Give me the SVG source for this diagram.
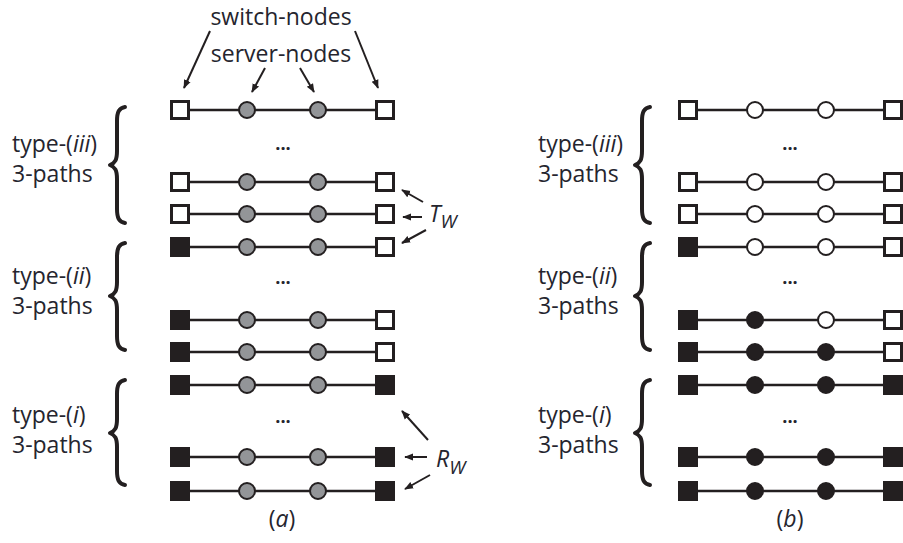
<svg xmlns="http://www.w3.org/2000/svg" width="903" height="543" viewBox="0 0 903 543">
<style>
.t{font-family:"Open Sans","Noto Sans","Liberation Sans",sans-serif;font-size:23px;fill:#25252e}
.i{font-style:italic}
.dots{font-family:"Open Sans","Liberation Sans",sans-serif;font-size:18px;font-weight:700;fill:#25252e;text-anchor:middle}
.so{fill:#fff;stroke:#231f20;stroke-width:3}
.sf{fill:#231f20;stroke:#231f20;stroke-width:3}
.cg{fill:#939598;stroke:#231f20;stroke-width:2}
.co{fill:#fff;stroke:#231f20;stroke-width:2}
.cf{fill:#231f20;stroke:#231f20;stroke-width:2}
.e{stroke:#231f20;stroke-width:2.5}
.ar{stroke:#231f20;stroke-width:2;fill:none;marker-end:url(#ah)}
.br{fill:none;stroke:#231f20;stroke-width:4;stroke-linecap:round;stroke-linejoin:round}
</style>
<defs>
<marker id="ah" viewBox="0 0 10 10" refX="9" refY="5" markerWidth="4.5" markerHeight="4.5" orient="auto" markerUnits="strokeWidth">
<path d="M0,1 L10,5 L0,9 z" fill="#231f20"/>
</marker>
</defs>
<rect width="903" height="543" fill="#fff"/>
<g id="labels">
<text class="t" x="281" y="25" text-anchor="middle">switch-nodes</text>
<text class="t" x="281" y="62" text-anchor="middle">server-nodes</text>
<text class="t" x="12" y="152">type-(<tspan class="i">iii</tspan>)</text>
<text class="t" x="12" y="182">3-paths</text>
<text class="t" x="12" y="284">type-(<tspan class="i">ii</tspan>)</text>
<text class="t" x="12" y="314">3-paths</text>
<text class="t" x="12" y="423">type-(<tspan class="i">i</tspan>)</text>
<text class="t" x="12" y="453">3-paths</text>
<text class="t" x="538" y="152">type-(<tspan class="i">iii</tspan>)</text>
<text class="t" x="538" y="182">3-paths</text>
<text class="t" x="538" y="284">type-(<tspan class="i">ii</tspan>)</text>
<text class="t" x="538" y="314">3-paths</text>
<text class="t" x="538" y="423">type-(<tspan class="i">i</tspan>)</text>
<text class="t" x="538" y="453">3-paths</text>
<text class="t i" x="429" y="222">T<tspan font-size="19" dy="6">W</tspan></text>
<text class="t i" x="436" y="467">R<tspan font-size="19" dy="7">W</tspan></text>
<text class="t" x="282" y="527" text-anchor="middle">(<tspan class="i">a</tspan>)</text>
<text class="t" x="790" y="527" text-anchor="middle">(<tspan class="i">b</tspan>)</text>
<text class="dots" x="283" y="150">...</text>
<text class="dots" x="283" y="284">...</text>
<text class="dots" x="283" y="423">...</text>
<text class="dots" x="790" y="150">...</text>
<text class="dots" x="790" y="284">...</text>
<text class="dots" x="790" y="423">...</text>
</g>
<g id="braces">
<path class="br" d="M125,107 C119,108 117,112 117,121 L117,151 C117,160 115,163 110,165 C115,167 117,170 117,179 L117,209 C117,218 119,222 125,223"/>
<path class="br" d="M125,243 C119,244 117,248 117,257 L117,282 C117,291 115,294 110,296 C115,298 117,301 117,310 L117,336 C117,345 119,349 125,350"/>
<path class="br" d="M125,380 C119,381 117,385 117,394 L117,419 C117,428 115,431 110,433 C115,435 117,438 117,447 L117,471 C117,480 119,484 125,485"/>
<path class="br" d="M650,107 C644,108 642,112 642,121 L642,151 C642,160 640,163 635,165 C640,167 642,170 642,179 L642,209 C642,218 644,222 650,223"/>
<path class="br" d="M650,243 C644,244 642,248 642,257 L642,282 C642,291 640,294 635,296 C640,298 642,301 642,310 L642,336 C642,345 644,349 650,350"/>
<path class="br" d="M650,380 C644,381 642,385 642,394 L642,419 C642,428 640,431 635,433 C640,435 642,438 642,447 L642,471 C642,480 644,484 650,485"/>
</g>
<g id="connectors">
<line class="e" x1="180" y1="110" x2="385" y2="110"/>
<line class="e" x1="180" y1="182" x2="385" y2="182"/>
<line class="e" x1="180" y1="214" x2="385" y2="214"/>
<line class="e" x1="180" y1="247" x2="385" y2="247"/>
<line class="e" x1="180" y1="320" x2="385" y2="320"/>
<line class="e" x1="180" y1="352" x2="385" y2="352"/>
<line class="e" x1="180" y1="385" x2="385" y2="385"/>
<line class="e" x1="180" y1="457" x2="385" y2="457"/>
<line class="e" x1="180" y1="491" x2="385" y2="491"/>
<line class="e" x1="688" y1="110" x2="893" y2="110"/>
<line class="e" x1="688" y1="182" x2="893" y2="182"/>
<line class="e" x1="688" y1="214" x2="893" y2="214"/>
<line class="e" x1="688" y1="247" x2="893" y2="247"/>
<line class="e" x1="688" y1="320" x2="893" y2="320"/>
<line class="e" x1="688" y1="352" x2="893" y2="352"/>
<line class="e" x1="688" y1="385" x2="893" y2="385"/>
<line class="e" x1="688" y1="457" x2="893" y2="457"/>
<line class="e" x1="688" y1="491" x2="893" y2="491"/>
<line class="ar" x1="210" y1="31" x2="184" y2="88"/>
<line class="ar" x1="355" y1="31" x2="378" y2="88"/>
<line class="ar" x1="265" y1="68" x2="252" y2="92"/>
<line class="ar" x1="300" y1="68" x2="314" y2="92"/>
<line class="ar" x1="423" y1="202" x2="402" y2="190"/>
<line class="ar" x1="422" y1="217" x2="403" y2="217"/>
<line class="ar" x1="426" y1="230" x2="402" y2="243"/>
<line class="ar" x1="428" y1="440" x2="402" y2="411"/>
<line class="ar" x1="427" y1="457" x2="405" y2="457"/>
<line class="ar" x1="430" y1="475" x2="405" y2="489"/>
</g>
<g id="nodes-a">
<g id="a1s1"><rect class="so" x="171.5" y="101.5" width="17" height="17"/></g>
<g id="a1c1"><circle class="cg" cx="247" cy="110" r="8"/></g>
<g id="a1c2"><circle class="cg" cx="318" cy="110" r="8"/></g>
<g id="a1s2"><rect class="so" x="376.5" y="101.5" width="17" height="17"/></g>
<g id="a2s1"><rect class="so" x="171.5" y="173.5" width="17" height="17"/></g>
<g id="a2c1"><circle class="cg" cx="247" cy="182" r="8"/></g>
<g id="a2c2"><circle class="cg" cx="318" cy="182" r="8"/></g>
<g id="a2s2"><rect class="so" x="376.5" y="173.5" width="17" height="17"/></g>
<g id="a3s1"><rect class="so" x="171.5" y="205.5" width="17" height="17"/></g>
<g id="a3c1"><circle class="cg" cx="247" cy="214" r="8"/></g>
<g id="a3c2"><circle class="cg" cx="318" cy="214" r="8"/></g>
<g id="a3s2"><rect class="so" x="376.5" y="205.5" width="17" height="17"/></g>
<g id="a4s1"><rect class="sf" x="171.5" y="238.5" width="17" height="17"/></g>
<g id="a4c1"><circle class="cg" cx="247" cy="247" r="8"/></g>
<g id="a4c2"><circle class="cg" cx="318" cy="247" r="8"/></g>
<g id="a4s2"><rect class="so" x="376.5" y="238.5" width="17" height="17"/></g>
<g id="a5s1"><rect class="sf" x="171.5" y="311.5" width="17" height="17"/></g>
<g id="a5c1"><circle class="cg" cx="247" cy="320" r="8"/></g>
<g id="a5c2"><circle class="cg" cx="318" cy="320" r="8"/></g>
<g id="a5s2"><rect class="so" x="376.5" y="311.5" width="17" height="17"/></g>
<g id="a6s1"><rect class="sf" x="171.5" y="343.5" width="17" height="17"/></g>
<g id="a6c1"><circle class="cg" cx="247" cy="352" r="8"/></g>
<g id="a6c2"><circle class="cg" cx="318" cy="352" r="8"/></g>
<g id="a6s2"><rect class="so" x="376.5" y="343.5" width="17" height="17"/></g>
<g id="a7s1"><rect class="sf" x="171.5" y="376.5" width="17" height="17"/></g>
<g id="a7c1"><circle class="cg" cx="247" cy="385" r="8"/></g>
<g id="a7c2"><circle class="cg" cx="318" cy="385" r="8"/></g>
<g id="a7s2"><rect class="sf" x="376.5" y="376.5" width="17" height="17"/></g>
<g id="a8s1"><rect class="sf" x="171.5" y="448.5" width="17" height="17"/></g>
<g id="a8c1"><circle class="cg" cx="247" cy="457" r="8"/></g>
<g id="a8c2"><circle class="cg" cx="318" cy="457" r="8"/></g>
<g id="a8s2"><rect class="sf" x="376.5" y="448.5" width="17" height="17"/></g>
<g id="a9s1"><rect class="sf" x="171.5" y="482.5" width="17" height="17"/></g>
<g id="a9c1"><circle class="cg" cx="247" cy="491" r="8"/></g>
<g id="a9c2"><circle class="cg" cx="318" cy="491" r="8"/></g>
<g id="a9s2"><rect class="sf" x="376.5" y="482.5" width="17" height="17"/></g>
</g>
<g id="nodes-b">
<g id="b1s1"><rect class="so" x="679.5" y="101.5" width="17" height="17"/></g>
<g id="b1c1"><circle class="co" cx="755" cy="110" r="8"/></g>
<g id="b1c2"><circle class="co" cx="826" cy="110" r="8"/></g>
<g id="b1s2"><rect class="so" x="884.5" y="101.5" width="17" height="17"/></g>
<g id="b2s1"><rect class="so" x="679.5" y="173.5" width="17" height="17"/></g>
<g id="b2c1"><circle class="co" cx="755" cy="182" r="8"/></g>
<g id="b2c2"><circle class="co" cx="826" cy="182" r="8"/></g>
<g id="b2s2"><rect class="so" x="884.5" y="173.5" width="17" height="17"/></g>
<g id="b3s1"><rect class="so" x="679.5" y="205.5" width="17" height="17"/></g>
<g id="b3c1"><circle class="co" cx="755" cy="214" r="8"/></g>
<g id="b3c2"><circle class="co" cx="826" cy="214" r="8"/></g>
<g id="b3s2"><rect class="so" x="884.5" y="205.5" width="17" height="17"/></g>
<g id="b4s1"><rect class="sf" x="679.5" y="238.5" width="17" height="17"/></g>
<g id="b4c1"><circle class="co" cx="755" cy="247" r="8"/></g>
<g id="b4c2"><circle class="co" cx="826" cy="247" r="8"/></g>
<g id="b4s2"><rect class="so" x="884.5" y="238.5" width="17" height="17"/></g>
<g id="b5s1"><rect class="sf" x="679.5" y="311.5" width="17" height="17"/></g>
<g id="b5c1"><circle class="cf" cx="755" cy="320" r="8"/></g>
<g id="b5c2"><circle class="co" cx="826" cy="320" r="8"/></g>
<g id="b5s2"><rect class="so" x="884.5" y="311.5" width="17" height="17"/></g>
<g id="b6s1"><rect class="sf" x="679.5" y="343.5" width="17" height="17"/></g>
<g id="b6c1"><circle class="cf" cx="755" cy="352" r="8"/></g>
<g id="b6c2"><circle class="cf" cx="826" cy="352" r="8"/></g>
<g id="b6s2"><rect class="so" x="884.5" y="343.5" width="17" height="17"/></g>
<g id="b7s1"><rect class="sf" x="679.5" y="376.5" width="17" height="17"/></g>
<g id="b7c1"><circle class="cf" cx="755" cy="385" r="8"/></g>
<g id="b7c2"><circle class="cf" cx="826" cy="385" r="8"/></g>
<g id="b7s2"><rect class="sf" x="884.5" y="376.5" width="17" height="17"/></g>
<g id="b8s1"><rect class="sf" x="679.5" y="448.5" width="17" height="17"/></g>
<g id="b8c1"><circle class="cf" cx="755" cy="457" r="8"/></g>
<g id="b8c2"><circle class="cf" cx="826" cy="457" r="8"/></g>
<g id="b8s2"><rect class="sf" x="884.5" y="448.5" width="17" height="17"/></g>
<g id="b9s1"><rect class="sf" x="679.5" y="482.5" width="17" height="17"/></g>
<g id="b9c1"><circle class="cf" cx="755" cy="491" r="8"/></g>
<g id="b9c2"><circle class="cf" cx="826" cy="491" r="8"/></g>
<g id="b9s2"><rect class="sf" x="884.5" y="482.5" width="17" height="17"/></g>
</g>
</svg>
